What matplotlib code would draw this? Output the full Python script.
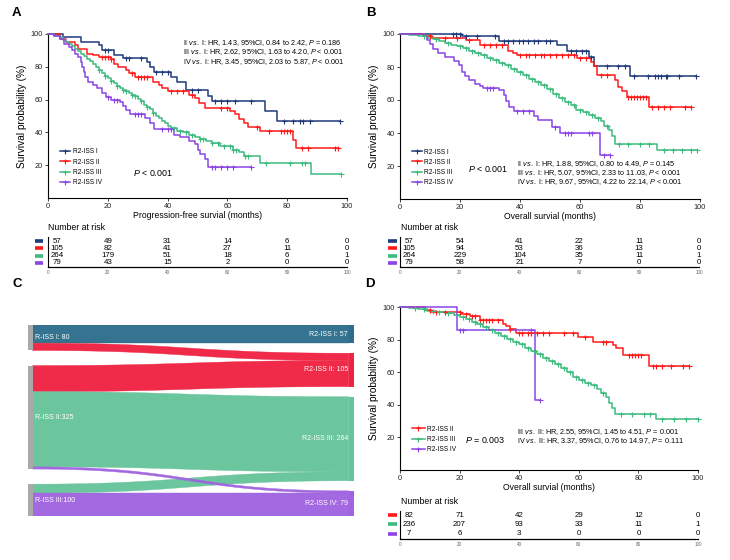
import numpy as np
import matplotlib
matplotlib.use('Agg')
import matplotlib.pyplot as plt
from matplotlib.lines import Line2D
import matplotlib.transforms as mtransforms

plt.rcParams['font.family'] = ['Liberation Sans', 'DejaVu Sans']
plt.rcParams['mathtext.fontset'] = 'custom'
plt.rcParams['mathtext.rm'] = 'Liberation Sans'
plt.rcParams['mathtext.it'] = 'Liberation Sans:italic'
plt.rcParams['mathtext.bf'] = 'Liberation Sans:bold'

# ---------------- data ----------------
month_ticks = [0, 20, 40, 60, 80, 100]
surv_ticks = [20, 40, 60, 80, 100]
groups = ['R2-ISS I', 'R2-ISS II', 'R2-ISS III', 'R2-ISS IV']
km_colors = ['#1f3b7a', '#ff1a1a', '#3dba7e', '#8b44e6']

# Panel A: progression-free survival
A_I_t = [0, 5, 11, 17, 18, 22, 25, 33, 34, 35.5, 41, 43, 46, 53.5, 55, 72.6, 76.5]
A_I_s = [100, 98, 95, 93, 90, 87, 85.5, 83, 80, 77, 74, 71, 66, 62, 59, 53, 47]
A_I_c = [19, 20, 26, 27, 31, 36, 38, 40, 48, 50, 56, 58, 60, 62.5, 68, 79, 82, 84.3, 85.4, 87.6, 97.7]
A_II_t = [0, 4, 6, 9, 10, 13, 15, 17, 21, 22, 23.5, 26, 27, 29, 35, 37, 38, 40, 47, 49,
          50.5, 52.5, 61, 62.5, 64, 65.5, 67, 71, 82, 83]
A_II_s = [100, 97, 95, 93, 91, 88, 87, 86, 85, 82, 80, 78, 76, 74, 71, 69, 67, 65.5, 63, 61,
          58, 55, 53, 51, 48, 46, 43.5, 41, 35.5, 30.5]
A_II_c = [18, 19, 20, 21, 28, 30, 31, 32, 33, 41, 43, 45, 48, 58, 60, 70, 74, 78, 79, 80, 81, 85, 87, 96, 97]
A_III_t = [0, 2, 4, 5, 6, 7, 8, 9, 10, 11, 12, 13, 14, 15, 16, 17, 18, 19, 20, 21, 22,
           23, 24, 25, 26, 27, 28, 29, 30, 31, 32, 33, 34, 35, 36, 37, 38, 39, 40, 41, 43,
           45, 47, 49, 51, 53, 55, 57.5, 62, 64, 65.5, 71, 88]
A_III_s = [100, 99, 98, 96.5, 95, 94, 92.5, 91, 89.5, 88, 86.5, 85, 83.5, 82, 80, 78, 76, 74.5, 73, 71.5, 70,
           68.5, 67, 66, 65, 64, 63, 62, 60.5, 59, 57, 55.5, 54, 52, 50, 48.5, 47, 45.5, 44, 42.5, 41,
           40, 38.5, 37, 36, 34.5, 33.5, 31.5, 29.5, 28, 25.5, 21.5, 14.5]
A_III_c = [17, 19, 21, 23, 25, 26, 28, 29, 31, 33, 35, 42, 44, 46, 48, 51, 52, 55, 57, 59, 61,
           62, 63, 66, 67, 73, 81, 85, 86, 98]
A_IV_t = [0, 2, 4, 5.5, 7, 8, 9, 10, 11, 11.5, 12, 12.5, 13.5, 15, 16.5, 18, 19.5, 21, 24, 25, 26,
          27.5, 32.5, 34, 35.5, 42, 44, 47, 49, 50, 51, 52.5, 53.5]
A_IV_s = [100, 99, 97, 94, 92, 90, 88, 86, 83, 80, 77, 74, 71, 69, 67, 64, 61.5, 60, 58.5, 56, 53.5,
          51, 49, 46, 42, 38.5, 37, 35, 33, 29.5, 27, 24, 19]
A_IV_c = [20, 22, 23, 29, 30, 31, 38, 40, 41, 55, 56, 58, 60, 62, 68]

# Panel B: overall survival
B_I_t = [0, 20.5, 33, 52.3, 55.6, 63, 64.5, 76.8]
B_I_s = [100, 98.5, 96, 93.3, 89.5, 86, 80.5, 74.5]
B_I_c = [17.5, 18.5, 20, 22, 25.5, 31.5, 34.5, 36, 37.5, 39.5, 41, 42.5, 44.5, 46, 48.5, 50,
         57, 58.5, 60.5, 62, 63.5, 69, 72.5, 75, 78, 82.5, 85, 86, 87, 88.5, 89, 93, 98.5]
B_II_t = [0, 8, 10.5, 22, 26.6, 36, 37.8, 39, 59, 63.5, 64.6, 65.7, 71.5, 72.5, 74, 75.5, 83]
B_II_s = [100, 99, 97.5, 96.5, 93.5, 90, 88.5, 87.3, 85.3, 83.2, 80.5, 75, 72, 68, 65.5, 62, 55.8]
B_II_c = [10, 15, 19, 23, 28, 30, 32, 34, 40, 42, 43, 45, 47, 48, 50, 52, 54, 56, 58, 60, 62,
          67, 69, 76, 77, 78, 79, 80, 81, 82, 84, 86, 88, 90, 95, 97]
B_III_t = [0, 3, 6, 9, 11, 13, 15, 17, 19, 21, 23, 25, 27, 29, 31, 33, 35, 37, 39, 41, 43,
           45, 47, 49, 51, 53, 55, 57, 58.5, 61, 63, 65, 67, 68, 69.5, 70.5, 71.8, 85.7]
B_III_s = [100, 99.5, 98.8, 97.8, 96.8, 95.5, 94.5, 93.5, 92.5, 91.5, 90, 88.5, 87, 85.5, 84, 82.5, 81, 79, 77, 75, 73,
           71, 69, 66.5, 63.5, 61, 59, 57, 54, 52.5, 51, 49, 47, 44, 42, 38, 33.5, 30]
B_III_c = [8, 12, 16, 20, 22, 24, 26, 28, 30, 32, 34, 36, 38, 40, 42, 44, 46, 48, 50, 52, 54,
           56, 58, 60, 62, 64, 66, 69, 73, 76, 80, 83, 88, 91, 94, 97, 99]
B_IV_t = [0, 8, 9, 10, 11, 12.5, 15, 18, 19.5, 20.5, 21.5, 23, 25, 26.5, 27.7, 33, 34.5, 35.2,
          36.2, 38, 44.5, 46, 50.6, 53.4, 66.8]
B_IV_s = [100, 98.7, 96.2, 93.7, 91.1, 88.6, 86.1, 83.5, 81, 77.2, 74.7, 72.2, 69.6, 68.4, 67.1, 65.8,
          63.3, 59.5, 55.7, 53.2, 50.4, 47.9, 43.9, 39.8, 26.5]
B_IV_c = [29, 30, 31, 39, 41, 43, 51.5, 55, 56, 57, 63, 64, 68, 70]

# Panel D: overall survival within R-ISS II
D_II_t = [0, 8.3, 10.5, 20.6, 23.4, 26.7, 34.6, 35.7, 36.8, 39, 59.7, 64.7, 71.5, 72.5, 74.8, 83.4]
D_II_s = [100, 98.4, 97, 95.8, 94.2, 91.8, 89.8, 88.1, 86.5, 84.1, 81.4, 78.6, 76.5, 74.7, 70.5, 63.6]
D_II_c = [10, 12, 15, 20, 22, 24, 25, 27, 28, 29, 30, 31, 33, 37, 40, 41, 43, 44, 46, 48, 50,
          55, 58, 62, 68, 69, 77, 78, 79, 80, 81, 85, 86, 88, 91, 95, 97]
D_III_t = [0, 3, 6, 9, 12, 15, 18, 20, 22, 24, 26, 28, 30, 32, 34, 36, 38, 40, 42, 44, 46,
           48, 50, 52, 54, 56, 58, 60, 62, 64, 66, 67.5, 69, 70, 71, 72, 85.8]
D_III_s = [100, 99.4, 98.6, 97.8, 97, 96.2, 95.2, 94, 92.5, 91, 89.5, 87.8, 86, 84, 82.3, 80.5, 78.8, 77, 75, 73, 71,
           69, 67, 65, 62.5, 60, 57, 55.5, 53.5, 52, 50, 47.5, 44.5, 41, 38, 34.5, 31.2]
D_III_c = [5, 8, 11, 13, 16, 19, 21, 23, 25, 27, 29, 31, 33, 35, 37, 39, 41, 43, 45, 47, 49,
           51, 53, 55, 57, 59, 61, 63, 65, 68, 74, 78, 82, 84, 88, 92, 96, 100]
D_IV_t = [0, 19, 45.3]
D_IV_s = [100, 85.7, 42.9]
D_IV_c = [20, 21, 44, 47]

# Numbers at risk
A_risk = [[57, 49, 31, 14, 6, 0], [105, 82, 41, 27, 11, 0], [264, 179, 51, 18, 6, 1], [79, 43, 15, 2, 0, 0]]
B_risk = [[57, 54, 41, 22, 11, 0], [105, 94, 53, 36, 13, 0], [264, 229, 104, 35, 11, 1], [79, 58, 21, 7, 0, 0]]
D_risk = [[82, 71, 42, 29, 12, 0], [236, 207, 93, 33, 11, 1], [7, 6, 3, 0, 0, 0]]

# Hazard ratio annotations
A_hr = [r'II $\mathit{vs.}$ I: HR, 1.43, 95%CI, 0.84 to 2.42, $\mathit{P}$ = 0.186',
        r'III $\mathit{vs.}$ I: HR, 2.62, 95%CI, 1.63 to 4.20, $\mathit{P}$ < 0.001',
        r'IV $\mathit{vs.}$ I: HR, 3.45, 95%CI, 2.03 to 5.87, $\mathit{P}$ < 0.001']
B_hr = [r'II $\mathit{vs.}$ I: HR, 1.88, 95%CI, 0.80 to 4.49, $\mathit{P}$ = 0.145',
        r'III $\mathit{vs.}$ I: HR, 5.07, 95%CI, 2.33 to 11.03, $\mathit{P}$ < 0.001',
        r'IV $\mathit{vs.}$ I: HR, 9.67, 95%CI, 4.22 to 22.14, $\mathit{P}$ < 0.001']
D_hr = [r'III $\mathit{vs.}$ II: HR, 2.55, 95%CI, 1.45 to 4.51, $\mathit{P}$ = 0.001',
        r'IV $\mathit{vs.}$ II: HR, 3.37, 95%CI, 0.76 to 14.97, $\mathit{P}$ = 0.111']
A_p = r'$\mathit{P}$ < 0.001'
B_p = r'$\mathit{P}$ < 0.001'
D_p = r'$\mathit{P}$ = 0.003'

# Sankey (panel C)
src_names = ['R-ISS I: 80', 'R-ISS II:325', 'R-ISS III:100']
tgt_names = ['R2-ISS I: 57', 'R2-ISS II: 105', 'R2-ISS III: 264', 'R2-ISS IV: 79']
flow_src = [0, 0, 1, 1, 1, 2, 2]
flow_tgt = [0, 1, 1, 2, 3, 2, 3]
flow_val = [57, 23, 82, 236, 7, 28, 72]
sankey_colors = ['#2e6e8c', '#ef2443', '#66c49a', '#a064e0']
node_gray = '#a9a9a9'

# ---------------- figure ----------------
W, H = 730, 560
fig = plt.figure(figsize=(7.3, 5.6), dpi=100)


def add_ax(x0, y0, x1, y1):
    return fig.add_axes([x0 / W, 1 - y1 / H, (x1 - x0) / W, (y1 - y0) / H])


def ftext(x, y, s, **kw):
    fig.text(x / W, 1 - y / H, s, **kw)


def km(ax, t, s, c, color):
    t = np.asarray(t, float)
    s = np.asarray(s, float)
    c = np.asarray(c, float)
    tend = max(t[-1], c.max())
    ax.step(np.append(t, tend), np.append(s, s[-1]), where='post', color=color,
            lw=1.1, zorder=3, clip_on=False)
    idx = np.searchsorted(t, c, side='right') - 1
    ax.plot(c, s[idx], ls='none', marker='+', ms=3.6, mew=0.8, color=color,
            zorder=4, clip_on=False)


def style_km(ax, xlabel):
    ax.set_xlim(0, 100)
    ax.set_ylim(0, 100)
    ax.set_xticks(month_ticks)
    ax.set_yticks(surv_ticks)
    for sp in ['top', 'right']:
        ax.spines[sp].set_visible(False)
    for sp in ['left', 'bottom']:
        ax.spines[sp].set_linewidth(0.8)
    ax.tick_params(labelsize=5.3, length=2, width=0.6, pad=1.5, colors='#222222')
    ax.set_xlabel(xlabel, fontsize=6.2, labelpad=1)
    ax.set_ylabel('Survival probability (%)', fontsize=7.3, labelpad=3)


def legend(ax, labels, colors, x, y, hl):
    handles = [Line2D([], [], color=c, lw=1.1, marker='+', ms=3.6, mew=0.8) for c in colors]
    ax.legend(handles, labels, loc='upper left', bbox_to_anchor=(x, y), frameon=False,
              fontsize=4.7, handlelength=hl, handletextpad=0.4, labelspacing=0.5,
              borderpad=0, borderaxespad=0)


def risk_table(ax, counts, colors, ylim, mx):
    ax.set_xlim(0, 100)
    ax.set_ylim(*ylim)
    for sp in ['top', 'right']:
        ax.spines[sp].set_visible(False)
    ax.spines['left'].set_linewidth(0.8)
    ax.spines['bottom'].set_linewidth(0.9)
    ax.set_yticks([])
    ax.set_xticks(month_ticks)
    ax.tick_params(axis='x', labelsize=3.3, length=0, pad=2.5, labelcolor='#666666')
    trans = mtransforms.blended_transform_factory(ax.transAxes, ax.transData)
    for r, (row, col) in enumerate(zip(counts, colors)):
        for tm, n in zip(month_ticks, row):
            ax.text(max(tm, 3), r, str(n), ha='center', va='center', fontsize=5.7)
        ax.plot(mx, [r, r], color=col, lw=2.6, transform=trans, clip_on=False,
                solid_capstyle='butt')


# ---- Panel A ----
axA = add_ax(48, 34, 347, 198)
for t, s, c, col in zip([A_I_t, A_II_t, A_III_t, A_IV_t], [A_I_s, A_II_s, A_III_s, A_IV_s],
                        [A_I_c, A_II_c, A_III_c, A_IV_c], km_colors):
    km(axA, t, s, c, col)
style_km(axA, 'Progression-free survial (months)')
legend(axA, groups, km_colors, 0.040, 0.302, 1.6)
for i, line in enumerate(A_hr):
    ftext(183, 43.3 + 9.2 * i, line, fontsize=5.2, va='center', ha='left')
ftext(133, 173.3, A_p, fontsize=6.4, va='center', ha='left')

tA = add_ax(48, 237, 347, 267)
risk_table(tA, A_risk, km_colors, (3.55, -0.55), [-0.0435, -0.0167])
ftext(48, 228, 'Number at risk', fontsize=6.3, va='center', ha='left')

# ---- Panel B ----
axB = add_ax(400, 34, 700, 199)
for t, s, c, col in zip([B_I_t, B_II_t, B_III_t, B_IV_t], [B_I_s, B_II_s, B_III_s, B_IV_s],
                        [B_I_c, B_II_c, B_III_c, B_IV_c], km_colors):
    km(axB, t, s, c, col)
style_km(axB, 'Overall survial (months)')
legend(axB, groups, km_colors, 0.039, 0.306, 1.55)
for i, line in enumerate(B_hr):
    ftext(516.7, 164 + 9.2 * i, line, fontsize=5.2, va='center', ha='left')
ftext(468, 169.3, B_p, fontsize=6.4, va='center', ha='left')

tB = add_ax(400, 237, 699, 267)
risk_table(tB, B_risk, km_colors, (3.55, -0.55), [-0.041, -0.011])
ftext(401, 228, 'Number at risk', fontsize=6.3, va='center', ha='left')

# ---- Panel C (Sankey) ----
axC = add_ax(28, 325, 354, 516)
span = 600.0
axC.set_xlim(0, 1)
axC.set_ylim(span, 0)
axC.axis('off')
nw_l, nw_r = 0.014, 0.016
n_src, n_tgt = len(src_names), len(tgt_names)
src_tot = [sum(v for s_, v in zip(flow_src, flow_val) if s_ == i) for i in range(n_src)]
tgt_tot = [sum(v for t_, v in zip(flow_tgt, flow_val) if t_ == j) for j in range(n_tgt)]
gap_l = (span - sum(src_tot)) / (n_src - 1)
gap_r = (span - sum(tgt_tot)) / (n_tgt - 1)
src_y0 = np.concatenate([[0], np.cumsum(np.array(src_tot) + gap_l)[:-1]])
tgt_y0 = np.concatenate([[0], np.cumsum(np.array(tgt_tot) + gap_r)[:-1]])

k_all = list(range(len(flow_val)))
ly = {}
off = list(src_y0)
for k in sorted(k_all, key=lambda k: (flow_src[k], flow_tgt[k])):
    ly[k] = off[flow_src[k]]
    off[flow_src[k]] += flow_val[k]
ry = {}
off = list(tgt_y0)
for k in sorted(k_all, key=lambda k: (flow_tgt[k], flow_src[k])):
    ry[k] = off[flow_tgt[k]]
    off[flow_tgt[k]] += flow_val[k]

uu = np.linspace(0, 1, 80)
x0, x1 = nw_l, 1 - nw_r
xm = (x0 + x1) / 2
bx = (1 - uu) ** 3 * x0 + 3 * (1 - uu) ** 2 * uu * xm + 3 * (1 - uu) * uu ** 2 * xm + uu ** 3 * x1
ease = 3 * uu ** 2 - 2 * uu ** 3
for k in sorted(k_all, key=lambda k: (flow_tgt[k], flow_src[k])):
    top = ly[k] + (ry[k] - ly[k]) * ease
    bot = top + flow_val[k]
    col = sankey_colors[flow_tgt[k]]
    axC.fill(np.concatenate([bx, bx[::-1]]), np.concatenate([top, bot[::-1]]),
             color=col, lw=0.3, ec=col, alpha=0.97, zorder=2)

for i in range(n_src):
    axC.add_patch(plt.Rectangle((0, src_y0[i]), nw_l, src_tot[i], color=node_gray, lw=0, zorder=3))
    axC.text(nw_l + 0.008, src_y0[i] + src_tot[i] / 2, src_names[i], color='white',
             fontsize=5, ha='left', va='center', zorder=4)
for j in range(n_tgt):
    axC.add_patch(plt.Rectangle((1 - nw_r, tgt_y0[j]), nw_r, tgt_tot[j],
                                color=sankey_colors[j], lw=0, zorder=3))
    axC.text(1 - nw_r - 0.003, tgt_y0[j] + tgt_tot[j] / 2, tgt_names[j], color='white',
             fontsize=5, ha='right', va='center', zorder=4)

# ---- Panel D ----
axD = add_ax(400, 307, 698, 470)
for t, s, c, col in zip([D_II_t, D_III_t, D_IV_t], [D_II_s, D_III_s, D_IV_s],
                        [D_II_c, D_III_c, D_IV_c], km_colors[1:]):
    km(axD, t, s, c, col)
style_km(axD, 'Overall survial (months)')
legend(axD, groups[1:], km_colors[1:], 0.039, 0.272, 2.0)
for i, line in enumerate(D_hr):
    ftext(516.7, 431.7 + 9.2 * i, line, fontsize=5.2, va='center', ha='left')
ftext(465, 440, D_p, fontsize=6.4, va='center', ha='left')

tD = add_ax(400, 511, 698, 539)
risk_table(tD, D_risk, km_colors[1:], (2.57, -0.43), [-0.041, -0.011])
ftext(401, 502, 'Number at risk', fontsize=6.3, va='center', ha='left')

# ---- panel letters ----
for lab, x, y in [('A', 11.5, 12.5), ('B', 366, 12.5), ('C', 12.5, 284), ('D', 365, 284)]:
    ftext(x, y, lab, fontsize=9.5, fontweight='bold', va='center', ha='left')

fig.savefig('out.png', dpi=100)
